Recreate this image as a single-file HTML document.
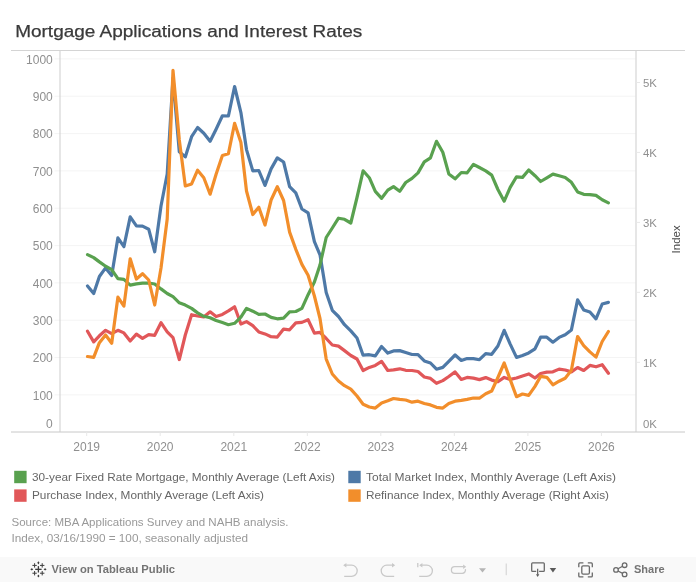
<!DOCTYPE html>
<html><head><meta charset="utf-8"><style>
html,body{margin:0;padding:0;background:#fff;}
body{width:696px;height:582px;overflow:hidden;position:relative;font-family:"Liberation Sans",Arial,sans-serif;}
svg{position:absolute;left:0;top:0;}
.g{stroke:#f4f4f4;stroke-width:1;}
.ax{font-size:12px;fill:#8f8f8f;}
.tk{stroke:#e8e8e8;stroke-width:1;}
.ln{fill:none;stroke-width:3.2;stroke-linejoin:round;stroke-linecap:round;}
.lg{font-size:11.5px;fill:#666;}
.src{font-size:11.5px;fill:#999;}
#tb{position:absolute;left:0;top:557px;width:696px;height:25px;background:#f9f9f9;}
</style></head><body>
<svg width="696" height="582" viewBox="0 0 696 582">
<text x="15.2" y="36.9" textLength="347" lengthAdjust="spacingAndGlyphs" style="font-size:17.3px;fill:#3a3a3a;stroke:#3a3a3a;stroke-width:0.25">Mortgage Applications and Interest Rates</text>
<line x1="54.5" x2="635.5" y1="394.9" y2="394.9" class="g"/><line x1="54.5" x2="635.5" y1="357.5" y2="357.5" class="g"/><line x1="54.5" x2="635.5" y1="320.2" y2="320.2" class="g"/><line x1="54.5" x2="635.5" y1="282.9" y2="282.9" class="g"/><line x1="54.5" x2="635.5" y1="245.6" y2="245.6" class="g"/><line x1="54.5" x2="635.5" y1="208.2" y2="208.2" class="g"/><line x1="54.5" x2="635.5" y1="170.9" y2="170.9" class="g"/><line x1="54.5" x2="635.5" y1="133.6" y2="133.6" class="g"/><line x1="54.5" x2="635.5" y1="96.2" y2="96.2" class="g"/><line x1="54.5" x2="635.5" y1="58.9" y2="58.9" class="g"/>
<line x1="11" x2="685" y1="50.5" y2="50.5" stroke="#d4d4d4"/>
<line x1="11" x2="685" y1="432" y2="432" stroke="#c8c8c8"/>
<line x1="60" x2="60" y1="51" y2="432" stroke="#cdcdcd"/>
<line x1="636" x2="636" y1="51" y2="432" stroke="#cdcdcd"/>
<text x="52.8" y="427.6" class="ax" text-anchor="end">0</text><text x="52.8" y="399.5" class="ax" text-anchor="end">100</text><text x="52.8" y="362.1" class="ax" text-anchor="end">200</text><text x="52.8" y="324.8" class="ax" text-anchor="end">300</text><text x="52.8" y="287.5" class="ax" text-anchor="end">400</text><text x="52.8" y="250.2" class="ax" text-anchor="end">500</text><text x="52.8" y="212.8" class="ax" text-anchor="end">600</text><text x="52.8" y="175.5" class="ax" text-anchor="end">700</text><text x="52.8" y="138.2" class="ax" text-anchor="end">800</text><text x="52.8" y="100.8" class="ax" text-anchor="end">900</text><text x="52.8" y="63.5" class="ax" text-anchor="end">1000</text>
<text x="643" y="427.7" class="ax" style="font-size:11.4px">0K</text><text x="643" y="367.0" class="ax" style="font-size:11.4px">1K</text><line x1="636" x2="640" y1="362.3" y2="362.3" class="tk"/><text x="643" y="297.0" class="ax" style="font-size:11.4px">2K</text><line x1="636" x2="640" y1="292.3" y2="292.3" class="tk"/><text x="643" y="227.1" class="ax" style="font-size:11.4px">3K</text><line x1="636" x2="640" y1="222.4" y2="222.4" class="tk"/><text x="643" y="157.1" class="ax" style="font-size:11.4px">4K</text><line x1="636" x2="640" y1="152.4" y2="152.4" class="tk"/><text x="643" y="87.2" class="ax" style="font-size:11.4px">5K</text><line x1="636" x2="640" y1="82.5" y2="82.5" class="tk"/>
<text x="86.7" y="451" class="ax" text-anchor="middle">2019</text><line x1="86.7" x2="86.7" y1="432" y2="436" class="tk"/><text x="160.2" y="451" class="ax" text-anchor="middle">2020</text><line x1="160.2" x2="160.2" y1="432" y2="436" class="tk"/><text x="233.8" y="451" class="ax" text-anchor="middle">2021</text><line x1="233.8" x2="233.8" y1="432" y2="436" class="tk"/><text x="307.3" y="451" class="ax" text-anchor="middle">2022</text><line x1="307.3" x2="307.3" y1="432" y2="436" class="tk"/><text x="380.8" y="451" class="ax" text-anchor="middle">2023</text><line x1="380.8" x2="380.8" y1="432" y2="436" class="tk"/><text x="454.3" y="451" class="ax" text-anchor="middle">2024</text><line x1="454.3" x2="454.3" y1="432" y2="436" class="tk"/><text x="527.9" y="451" class="ax" text-anchor="middle">2025</text><line x1="527.9" x2="527.9" y1="432" y2="436" class="tk"/><text x="601.4" y="451" class="ax" text-anchor="middle">2026</text><line x1="601.4" x2="601.4" y1="432" y2="436" class="tk"/>
<text transform="translate(680.4,239.4) rotate(-90)" text-anchor="middle" style="font-size:11.5px;fill:#4a4a4a">Index</text>
<polyline class="ln" stroke="#e15759" points="87.5,331.2 93.7,341.9 99.4,335.8 105.6,330.3 111.7,333.6 117.9,330.3 123.9,332.9 130.2,341.0 136.4,334.1 142.5,338.4 148.7,334.6 154.7,335.3 161.0,322.7 167.2,331.8 173.0,337.6 179.3,359.5 185.3,335.0 191.6,314.7 197.6,316.0 203.8,317.0 210.1,311.8 216.1,316.4 222.4,314.4 228.4,310.9 234.6,306.8 240.9,324.0 246.5,321.6 252.8,325.7 258.8,331.9 265.0,333.9 271.1,336.7 277.3,337.1 283.6,329.1 289.6,329.8 295.8,322.9 301.9,322.4 308.1,319.7 314.4,333.1 320.0,332.4 326.2,338.5 332.3,345.0 338.5,346.1 344.5,350.6 350.8,355.5 357.0,359.0 363.1,370.5 369.3,367.4 375.3,365.4 381.6,361.4 387.8,370.5 393.5,369.9 399.7,368.8 405.7,370.3 412.0,370.5 418.0,371.5 424.3,377.0 430.5,378.4 436.5,383.3 442.8,380.6 448.8,376.5 455.1,371.9 461.3,379.5 467.1,377.4 473.4,378.1 479.4,379.6 485.7,377.6 491.7,380.1 497.9,381.8 504.2,377.4 510.2,379.4 516.5,378.0 522.5,376.0 528.7,373.9 535.0,378.0 540.6,373.5 546.8,372.1 552.9,371.8 559.1,369.1 565.2,370.0 571.4,371.9 577.6,367.5 583.7,370.5 589.9,365.4 596.0,366.8 602.2,364.7 608.4,373.3"/>
<polyline class="ln" stroke="#4e79a7" points="87.5,285.9 93.7,293.6 99.4,276.5 105.6,267.9 111.7,275.6 117.9,237.8 123.9,246.7 130.2,216.8 136.4,225.8 142.5,226.1 148.7,229.2 154.7,251.8 161.0,206.0 167.2,174.0 173.0,78.0 179.3,151.8 185.3,156.9 191.6,136.7 197.6,127.5 203.8,133.2 210.1,141.3 216.1,129.2 222.4,115.8 228.4,116.0 234.6,86.5 240.9,112.6 246.5,149.6 252.8,170.9 258.8,170.5 265.0,185.4 271.1,168.9 277.3,157.9 283.6,162.0 289.6,186.7 295.8,192.9 301.9,209.0 308.1,212.9 314.4,241.6 320.0,254.8 326.2,292.4 332.3,310.3 338.5,316.5 344.5,324.7 350.8,330.9 357.0,338.0 363.1,355.2 369.3,354.7 375.3,355.9 381.6,346.5 387.8,353.1 393.5,350.9 399.7,350.6 405.7,352.5 412.0,354.5 418.0,354.7 424.3,360.9 430.5,363.0 436.5,369.2 442.8,367.4 448.8,361.3 455.1,355.0 461.3,360.5 467.1,358.6 473.4,358.6 479.4,359.7 485.7,353.7 491.7,354.3 497.9,346.0 504.2,330.3 510.2,344.1 516.5,357.4 522.5,355.4 528.7,352.9 535.0,348.8 540.6,337.2 546.8,337.2 552.9,342.2 559.1,337.4 565.2,334.7 571.4,329.9 577.6,299.9 583.7,309.9 589.9,312.0 596.0,318.9 602.2,304.0 608.4,302.4"/>
<polyline class="ln" stroke="#59a14f" points="87.5,254.6 93.7,257.6 99.4,261.9 105.6,266.2 111.7,269.6 117.9,278.7 123.9,279.4 130.2,285.1 136.4,283.9 142.5,283.2 148.7,283.0 154.7,284.0 161.0,288.9 167.2,293.5 173.0,296.7 179.3,302.8 185.3,305.1 191.6,308.4 197.6,312.9 203.8,316.3 210.1,317.7 216.1,320.5 222.4,322.6 228.4,324.7 234.6,323.3 240.9,317.1 246.5,308.4 252.8,311.2 258.8,314.3 265.0,314.0 271.1,317.4 277.3,318.8 283.6,318.1 289.6,311.9 295.8,311.5 301.9,308.4 308.1,294.7 314.4,282.0 320.0,265.0 326.2,237.5 332.3,228.0 338.5,218.2 344.5,219.3 350.8,223.0 357.0,197.5 363.1,170.8 369.3,177.7 375.3,191.4 381.6,198.3 387.8,190.1 393.5,186.6 399.7,191.3 405.7,182.5 412.0,178.4 418.0,172.9 424.3,161.9 430.5,157.8 436.5,141.3 442.8,152.3 448.8,173.9 455.1,178.8 461.3,172.5 467.1,172.9 473.4,164.4 479.4,167.5 485.7,170.9 491.7,175.1 497.9,189.5 504.2,201.2 510.2,187.4 516.5,176.8 522.5,177.4 528.7,170.0 535.0,175.7 540.6,181.5 546.8,177.8 552.9,174.1 559.1,175.8 565.2,177.5 571.4,182.3 577.6,191.9 583.7,194.3 589.9,194.7 596.0,195.4 602.2,199.8 608.4,202.9"/>
<polyline class="ln" stroke="#f28e2b" points="87.5,356.5 93.7,357.3 99.4,342.7 105.6,335.0 111.7,343.2 117.9,297.2 123.9,306.1 130.2,258.8 136.4,279.0 142.5,273.7 148.7,280.0 154.7,305.0 161.0,268.0 167.2,219.0 173.0,70.3 179.3,140.0 185.3,186.0 191.6,183.9 197.6,170.2 203.8,177.7 210.1,194.2 216.1,174.3 222.4,155.5 228.4,153.7 234.6,123.3 240.9,142.5 246.5,191.0 252.8,214.5 258.8,207.2 265.0,225.0 271.1,200.0 277.3,186.7 283.6,200.5 289.6,232.1 295.8,249.3 301.9,264.4 308.1,275.3 314.4,296.0 320.0,318.5 326.2,359.1 332.3,374.0 338.5,381.0 344.5,385.7 350.8,389.1 357.0,396.0 363.1,404.2 369.3,407.0 375.3,408.1 381.6,402.9 387.8,400.8 393.5,398.5 399.7,399.4 405.7,400.0 412.0,402.2 418.0,401.2 424.3,403.5 430.5,404.9 436.5,407.3 442.8,408.1 448.8,403.5 455.1,401.2 461.3,400.4 467.1,399.4 473.4,398.0 479.4,398.2 485.7,393.7 491.7,391.0 497.9,377.5 504.2,363.0 510.2,379.6 516.5,396.7 522.5,394.0 528.7,395.4 535.0,386.4 540.6,376.4 546.8,377.3 552.9,384.8 559.1,381.2 565.2,378.2 571.4,370.2 577.6,336.5 583.7,345.7 589.9,351.9 596.0,357.1 602.2,341.5 608.4,331.5"/>
<rect x="14.2" y="470.8" width="12.4" height="12.4" fill="#59a14f"/>
<rect x="14.2" y="489.4" width="12.4" height="12.4" fill="#e15759"/>
<rect x="348.3" y="470.8" width="12.4" height="12.4" fill="#4e79a7"/>
<rect x="348.3" y="489.4" width="12.4" height="12.4" fill="#f28e2b"/>
<text x="32" y="481" class="lg" textLength="303" lengthAdjust="spacingAndGlyphs">30-year Fixed Rate Mortgage, Monthly Average (Left Axis)</text>
<text x="32" y="499.4" class="lg" textLength="232" lengthAdjust="spacingAndGlyphs">Purchase Index, Monthly Average (Left Axis)</text>
<text x="366" y="481" class="lg" textLength="250" lengthAdjust="spacingAndGlyphs">Total Market Index, Monthly Average (Left Axis)</text>
<text x="366" y="499.4" class="lg" textLength="243" lengthAdjust="spacingAndGlyphs">Refinance Index, Monthly Average (Right Axis)</text>
<text x="11.5" y="525.7" class="src" textLength="277" lengthAdjust="spacingAndGlyphs">Source: MBA Applications Survey and NAHB analysis.</text>
<text x="11.5" y="542.2" class="src" textLength="236.5" lengthAdjust="spacingAndGlyphs">Index, 03/16/1990 = 100, seasonally adjusted</text>
</svg>
<div id="tb"></div>
<svg width="696" height="582" viewBox="0 0 696 582">
<g fill="#3d3d3d" stroke="none">
<rect x="35.2" y="568.7" width="6.4" height="1.3"/>
<rect x="37.75" y="566.1" width="1.3" height="6.4"/>
<g transform="translate(34.6,565.4)"><rect x="-2.2" y="-0.5" width="4.4" height="1"/><rect x="-0.5" y="-2.2" width="1" height="4.4"/></g>
<g transform="translate(42.2,565.4)"><rect x="-2.2" y="-0.5" width="4.4" height="1"/><rect x="-0.5" y="-2.2" width="1" height="4.4"/></g>
<g transform="translate(34.6,573.2)"><rect x="-2.2" y="-0.5" width="4.4" height="1"/><rect x="-0.5" y="-2.2" width="1" height="4.4"/></g>
<g transform="translate(42.2,573.2)"><rect x="-2.2" y="-0.5" width="4.4" height="1"/><rect x="-0.5" y="-2.2" width="1" height="4.4"/></g>
<path d="M38.4,561.2 L39.5,562.8 L38.4,564.4 L37.3,562.8Z M38.4,574.4 L39.5,576 L38.4,577.6 L37.3,576Z M31.8,568.2 L33.3,569.35 L31.8,570.5 L30.3,569.35Z M45.1,568.2 L46.6,569.35 L45.1,570.5 L43.6,569.35Z"/>
</g>
<text x="51.5" y="573.4" textLength="123.5" lengthAdjust="spacingAndGlyphs" style="font-size:11.3px;font-weight:bold;fill:#747474">View on Tableau Public</text>
<g fill="none" stroke="#c9c9c9" stroke-width="1.3">
<path d="M344.5,565.2 H351.6 A5.6,5.6 0 0 1 351.6,576.4 H344.2"/>
<path d="M393.8,565.2 H386.8 A5.6,5.6 0 0 0 386.8,576.4 H394.2"/>
<path d="M420.6,565.2 H426.8 A5.6,5.6 0 0 1 426.8,576.4 H419.2 M417.8,563 V567.2"/>
<path d="M463.4,566.7 H454.7 A3.3,3.3 0 0 0 454.7,573.3 H462.3 A3.3,3.3 0 0 0 465.4,569.2"/>
<path d="M506.2,563.5 V575.2" stroke="#d0d0d0" stroke-width="1"/>
</g>
<g fill="#c9c9c9">
<path d="M343.2,565.2 L346.4,562.9 L346.4,567.5Z"/>
<path d="M395.2,565.2 L392,562.9 L392,567.5Z"/>
<path d="M419.2,565.2 L422.4,562.9 L422.4,567.5Z"/>
<path d="M466.2,566.7 L463.1,564.4 L463.1,569Z"/>
<path d="M479,568.3 L486,568.3 L482.5,572.6Z" fill="#b5b5b5"/>
</g>
<g fill="none" stroke="#6a6a6a" stroke-width="1.3">
<path d="M536.2,571.4 H532.6 A1,1 0 0 1 531.7,570.4 V563.8 A1,1 0 0 1 532.6,562.9 H543.4 A1,1 0 0 1 544.3,563.8 V570.4 A1,1 0 0 1 543.4,571.4 H539.1"/>
<path d="M537.65,568.8 V574.6"/>
<path d="M578.8,567.3 V563.9 A1,1 0 0 1 579.8,562.9 H583.4 M587.8,562.9 H591.3 A1,1 0 0 1 592.3,563.9 V567.3 M592.3,572.4 V575.9 A1,1 0 0 1 591.3,576.9 H587.8 M583.4,576.9 H579.8 A1,1 0 0 1 578.8,575.9 V572.4"/>
<rect x="581.8" y="565.8" width="7.6" height="8.3" rx="1.3"/>
<circle cx="616" cy="569.9" r="2.3"/>
<circle cx="624.6" cy="565.2" r="2.3"/>
<circle cx="624.6" cy="574.4" r="2.3"/>
<path d="M618,568.8 L622.6,566.3 M618,571 L622.6,573.3"/>
</g>
<g fill="#5a5a5a">
<path d="M536,574.3 L539.3,574.3 L537.65,576.9Z"/>
<path d="M549.7,568 L556.2,568 L552.95,572.6Z"/>
</g>
<text x="634" y="573.2" textLength="30.6" lengthAdjust="spacingAndGlyphs" style="font-size:11px;font-weight:bold;fill:#747474">Share</text>
</svg>
</body></html>
